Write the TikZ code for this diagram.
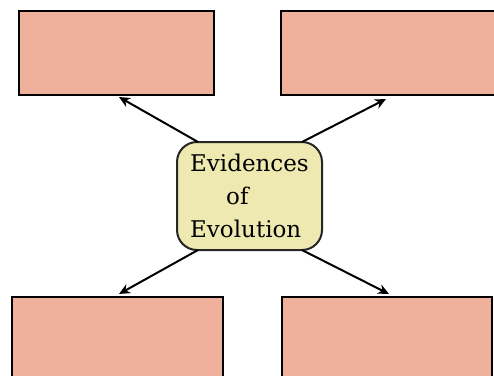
\documentclass[tikz,border=0pt]{standalone}
\usepackage{fontspec}
\setmainfont{DejaVu Serif}
\usetikzlibrary{arrows.meta}
\definecolor{boxpink}{HTML}{EFB09C}
\definecolor{centeryellow}{HTML}{EDE9B0}
\begin{document}
\begin{tikzpicture}[x=1pt,y=-1pt,
  pinkbox/.style={draw=black,line width=2.6pt,fill=boxpink},
  conn/.style={line width=2pt,-{Stealth[length=11pt,width=10pt]}}]
\useasboundingbox (0,0) rectangle (494,375);
\begin{scope}
\clip (0,0) rectangle (494,375);
\draw[pinkbox] (19,11) rectangle (214,95);
\draw[pinkbox] (281,11) rectangle (500,95);
\draw[pinkbox] (12,297) rectangle (223,385);
\draw[pinkbox] (282,297) rectangle (492,385);
\end{scope}
\coordinate (tl) at (119,97);
\coordinate (tr) at (386,99);
\coordinate (bl) at (119,294);
\coordinate (br) at (389,294);
\node[draw=black!85,line width=2pt,fill=centeryellow,rounded corners=20pt,
  minimum width=145pt,minimum height=108pt,inner sep=0pt] (c) at (249.5,196) {};
\node[anchor=base west,align=left,inner sep=0pt,font=\fontsize{23}{33}\selectfont]
  (t) at (190,237) {Evidences\\\hspace{36pt}of\\Evolution};
\coordinate (c1) at (198,142);
\coordinate (c2) at (302,142);
\coordinate (c3) at (198,250);
\coordinate (c4) at (302,250);
\draw[conn] (c1) -- (tl);
\draw[conn] (c2) -- (tr);
\draw[conn] (c3) -- (bl);
\draw[conn] (c4) -- (br);
\end{tikzpicture}
\end{document}
